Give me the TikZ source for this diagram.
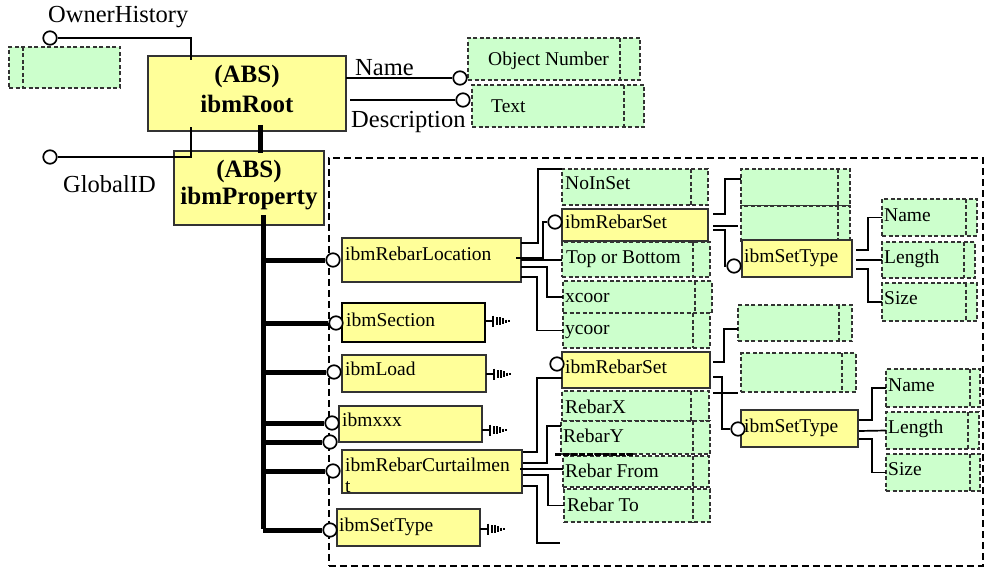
\documentclass[tikz,border=0pt]{standalone}
\usepackage{fontspec}
\setmainfont{Liberation Serif}
\definecolor{yfill}{HTML}{FFFF99}
\definecolor{gfill}{HTML}{CCFFCC}
\definecolor{edge}{HTML}{333333}
\tikzset{
 ybox/.style={draw=edge, line width=1.3pt, fill=yfill, inner sep=0pt, outer sep=0pt, anchor=north west},
 gbox/.style={draw=edge, dash pattern=on 4pt off 2.5pt, line width=1.3pt, fill=gfill, inner sep=0pt, outer sep=0pt, anchor=north west},
 gdiv/.style={draw=edge, dash pattern=on 4pt off 2.5pt, line width=1.3pt},
 lbl/.style={font=\fontsize{19.5}{21}\selectfont, inner sep=0pt, anchor=base west},
 biglbl/.style={font=\fontsize{24.5}{26}\selectfont, inner sep=0pt, anchor=base west},
 abs/.style={font=\fontsize{25}{27}\selectfont\bfseries, inner sep=0pt, anchor=base},
 conn/.style={line width=1.7pt},
 trunk/.style={line width=5pt},
 pin/.style={circle, draw, fill=white, line width=1.7pt, minimum size=13.5pt, inner sep=0pt},
 frame/.style={draw, dash pattern=on 7pt off 4pt, line width=1.7pt, inner sep=0pt, anchor=north west},
}
\newcommand{\bx}[6]{\node[#1, minimum width={#5pt-#3pt}, minimum height={#6pt-#4pt}] (#2) at (#3,#4) {};}
\newcommand{\gbx}[6]{\bx{gbox}{#1}{#2}{#3}{#4}{#5}\draw[gdiv] (#6,#3) -- (#6,#5);}
\newcommand{\gnd}[2]{%
 \draw[conn] ([yshift=#2]#1.east) -- ++(8,0) coordinate (gg);
 \draw[line width=1.7pt] ([yshift=5.5pt]gg) -- ([yshift=-5.5pt]gg);
 \foreach \dx/\h in {4/4,7/4,10/3,13/1.5,16/1}{\draw[line width=1.3pt] ([xshift=\dx pt,yshift=\h pt]gg) -- ([xshift=\dx pt,yshift=-\h pt]gg);}
}
\begin{document}
\begin{tikzpicture}[x=1pt,y=-1pt]
\useasboundingbox (0,0) rectangle (989,567);
\node[frame, minimum width=654pt, minimum height=408pt] (frm) at (328,157) {};
\coordinate (trk) at (263,0);

% ---- top left
\gbx{oh}{9}{47}{120}{88}{23}
\bx{ybox}{root}{148}{56}{346}{131}
\bx{ybox}{prop}{174}{151}{324}{225}
\gbx{on}{468}{38}{640}{80}{620}
\gbx{tx}{472}{85}{644}{127}{624}

% ---- left column boxes
\bx{ybox}{loc}{342}{238}{521}{282}
\bx{ybox, line width=2.6pt, draw=black}{sec}{342}{303}{485}{342}
\bx{ybox}{load}{342}{355}{486}{392}
\bx{ybox}{xxx}{339}{406}{482}{442}
\bx{ybox}{cur}{342}{450}{522}{493}
\bx{ybox}{st3}{337}{509}{480}{546}

% ---- upper right group
\gbx{no1}{562}{169}{708}{205}{691}
\bx{ybox}{rs1}{562}{209}{708}{241}
\gbx{tob}{562}{242}{710}{277}{693}
\gbx{xc}{563}{281}{712}{313}{695}
\gbx{yc}{563}{313}{710}{348}{693}
\gbx{e1}{741}{169}{850}{206}{838}
\gbx{e2}{741}{206}{850}{242}{838}
\bx{ybox}{st1}{742}{240}{852}{277}
\gbx{n1}{882}{199}{977}{236}{966}
\gbx{l1}{882}{242}{975}{278}{964}
\gbx{s1}{882}{283}{977}{321}{966}

% ---- lower right group
\gbx{e3}{738}{305}{852}{341}{839}
\bx{ybox}{rs2}{562}{352}{710}{388}
\gbx{rx}{562}{391}{709}{421}{691}
\gbx{ry}{561}{421}{710}{454}{693}
\gbx{rf}{563}{456}{709}{487}{693}
\gbx{rt}{564}{489}{710}{522}{693}
\gbx{e4}{741}{353}{856}{392}{842}
\bx{ybox}{st2}{741}{410}{858}{447}
\gbx{n2}{886}{369}{980}{407}{970}
\gbx{l2}{886}{412}{979}{449}{968}
\gbx{s2}{886}{454}{980}{491}{970}

\draw[line width=3pt, dash pattern=on 6pt off 2pt] ([xshift=-6pt]ry.south west) -- ([xshift=72pt]ry.south west);

% ---- pins
\node[pin] (po) at (50,38) {};
\node[pin] (pg) at (50,157) {};
\node[pin] (pn) at (460,78) {};
\node[pin] (pd) at (463,100) {};
\node[pin] (p1) at (333,260) {};
\node[pin] (p2) at (336,323) {};
\node[pin] (p3) at (334,372) {};
\node[pin] (p4) at (332,423) {};
\node[pin] (p5) at (330,442) {};
\node[pin] (p6) at (333,471) {};
\node[pin] (p7) at (330,530) {};
\node[pin] (pinA) at (555,222) {};
\node[pin] (pinB) at (734,266) {};
\node[pin] (pinC) at (557,364) {};
\node[pin] (pinD) at (738,429) {};

% ---- trunk
\draw[trunk] ([xshift=13pt,yshift=6pt]root.south) -- ([xshift=11pt,yshift=-2pt]prop.north);
\draw[trunk] ([xshift=14pt,yshift=10pt]prop.south) -- (263,529);
\foreach \p in {p1,p2,p3,p4,p5,p6,p7}{\draw[trunk] (\p -| trk) -- (\p);}

% ---- top connectors
\draw[conn] (po) -| ([xshift=43pt,yshift=-4pt]root.north west);
\draw[conn] (pg) -| ([xshift=43pt,yshift=4pt]root.south west);
\draw[conn] (root.east |- pn) -- (pn);
\draw[conn] ([xshift=4pt]root.east |- pd) -- (pd);

% ---- ibmRebarLocation
\draw[conn] ([yshift=17pt]loc.east) -- ++(17,0) |- (no1.north west);
\draw[conn] ([xshift=-5pt,yshift=2pt]loc.east) -- ++(27,0) |- (pinA);
\draw[conn] (loc.east) -- (loc.east -| tob.west);
\draw[conn] ([yshift=-7pt]loc.east) -- ++(26,0) |- (xc.west);
\draw[conn] ([yshift=-17pt]loc.east) -- ++(16,0) |- (yc.west);

% ---- upper ibmRebarSet
\draw[conn] ([xshift=5pt,yshift=11pt]rs1.east) -- ++(12,0) |- ([yshift=-10pt]e1.north west);
\draw[conn] ([xshift=5pt,yshift=-1pt]rs1.east) -- ++(25,0);
\draw[conn] ([xshift=5pt,yshift=-5pt]rs1.east) -- ++(12,0) |- (pinB);

% ---- upper ibmSetType
\draw[conn] ([xshift=4pt,yshift=8.5pt]st1.east) -- ++(12,0) |- (n1.west);
\draw[conn] ([xshift=4pt,yshift=-1.5pt]st1.east) -- (l1.west);
\draw[conn] ([xshift=4pt,yshift=-10.5pt]st1.east) -- ++(12,0) |- (s1.west);

% ---- ibmRebarCurtailment
\coordinate (fe) at (560,543);
\draw[conn] ([xshift=1pt,yshift=19.5pt]cur.east) -- ++(14,0) |- ([yshift=-26pt]rs2.north west);
\draw[conn] ([xshift=1pt,yshift=8.5pt]cur.east) -- ++(24,0) |- ([yshift=-5pt]ry.north west);
\draw[conn] ([xshift=-2pt,yshift=2.5pt]cur.east) -- ([yshift=2.5pt]rf.west);
\draw[conn] ([xshift=1pt,yshift=-3.5pt]cur.east) -- ++(25,0) |- (rt.west);
\draw[conn] ([xshift=1pt,yshift=-14.5pt]cur.east) -- ++(14,0) |- (fe);

% ---- lower ibmRebarSet
\draw[conn] ([xshift=3pt,yshift=8pt]rs2.east) -- ++(11,0) |- ([yshift=-24pt]e3.north west);
\draw[conn] ([xshift=3pt,yshift=-7pt]rs2.east) -- ++(9,0) |- (pinD);
\draw[conn] ([xshift=3pt,yshift=-23pt]rs2.east) -- ++(25,0);

% ---- lower ibmSetType
\draw[conn] ([xshift=1pt,yshift=8.5pt]st2.east) -- ++(13,0) |- (n2.west);
\draw[conn] ([xshift=1pt,yshift=-2.5pt]st2.east) -- (l2.west);
\draw[conn] ([xshift=1pt,yshift=-10.5pt]st2.east) -- ++(13,0) |- (s2.west);

% ---- ground symbols
\gnd{sec}{1.5pt}
\gnd{load}{-0.5pt}
\gnd{xxx}{-6pt}
\gnd{st3}{-1.5pt}

% ---- texts
\node[abs] (rootA) at (247,83) {(ABS)};
\node[abs] (rootB) at (247,113) {ibmRoot};
\node[abs] (propA) at (249,178) {(ABS)};
\node[abs] (propB) at (249,205) {ibmProperty};
\node[biglbl] (tOH) at (48,23) {OwnerHistory};
\node[biglbl] (tGID) at (63,193) {GlobalID};
\node[biglbl] (tName) at (355,76) {Name};
\node[biglbl] (tDesc) at (351,128) {Description};
\node[lbl] (tOn) at (488,66) {Object Number};
\node[lbl] (tTx) at (491,113) {Text};

\node[lbl] (tLoc) at (345,260) {ibmRebarLocation};
\node[lbl] (tSec) at (346,326) {ibmSection};
\node[lbl] (tLoad) at (345,375) {ibmLoad};
\node[lbl] (tXxx) at (342,426) {ibmxxx};
\node[lbl] (tCur) at (345,471) {ibmRebarCurtailmen};
\node[lbl] (tCur2) at (345,492) {t};
\node[lbl] (tSt3) at (339,531) {ibmSetType};

\node[lbl] (tNo1) at (565,190) {NoInSet};
\node[lbl] (tRs1) at (565,229) {ibmRebarSet};
\node[lbl] (tTob) at (566,263) {Top or Bottom};
\node[lbl] (tXc) at (565,302) {xcoor};
\node[lbl] (tYc) at (565,334) {ycoor};
\node[lbl] (tSt1) at (744,262) {ibmSetType};
\node[lbl] (tN1) at (884,222) {Name};
\node[lbl] (tL1) at (884,263) {Length};
\node[lbl] (tS1) at (884,305) {Size};

\node[lbl] (tRs2) at (565,373) {ibmRebarSet};
\node[lbl] (tRx) at (565,413) {RebarX};
\node[lbl] (tRy) at (563,442) {RebarY};
\node[lbl] (tRf) at (565,477) {Rebar From};
\node[lbl] (tRt) at (567,511) {Rebar To};
\node[lbl] (tSt2) at (744,432) {ibmSetType};
\node[lbl] (tN2) at (888,391) {Name};
\node[lbl] (tL2) at (888,433) {Length};
\node[lbl] (tS2) at (888,475) {Size};
\end{tikzpicture}
\end{document}
